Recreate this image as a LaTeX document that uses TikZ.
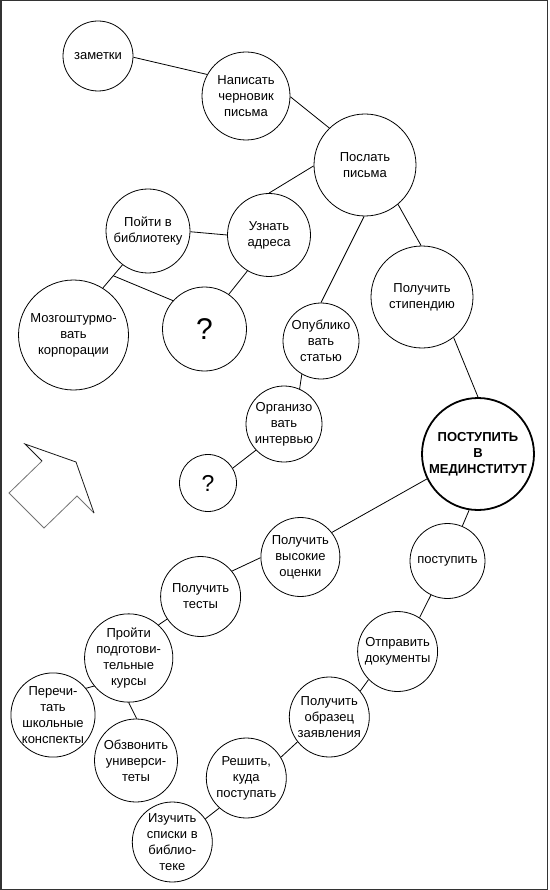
\documentclass[tikz,border=0pt]{standalone}
\usepackage{fontspec}
\setmainfont{Liberation Sans}
\begin{document}
\begin{tikzpicture}[x=1pt,y=-1pt,
  bub/.style={circle, draw, line width=0.8pt, inner sep=0pt, align=center,
    font=\fontsize{13}{16}\selectfont},
  mainbub/.style={bub, line width=1.8pt, font=\fontsize{13}{16}\selectfont\bfseries},
  qbig/.style={bub, font=\fontsize{30}{32}\selectfont},
  qsmall/.style={bub, font=\fontsize{23}{25}\selectfont},
  link/.style={line width=0.8pt}]
\useasboundingbox (0,0) rectangle (549,890);
\draw[line width=1.5pt, black!80] (0.75,0.75) rectangle (547.5,889.25);

\node[bub, minimum size=70pt] (zam) at (98,56) {заметки};
\node[bub, minimum size=88pt] (nap) at (246,96) {Написать\\черновик\\письма};
\node[bub, minimum size=102pt] (pos) at (365,165) {Послать\\письма};
\node[bub, minimum size=84pt] (poj) at (148,231) {Пойти в\\библиотеку};
\node[bub, minimum size=83pt] (uzn) at (269,235) {Узнать\\адреса};
\node[bub, minimum size=110pt] (mozg) at (73.5,335) {Мозгоштурмо-\\вать\\корпорации};
\node[qbig, minimum size=84pt] (q1) at (204.5,329) {?};
\node[bub, minimum size=102pt] (stip) at (422,297) {Получить\\стипендию};
\node[bub, minimum size=76pt] (opub) at (321,341) {Опублико\\вать\\статью};
\node[bub, minimum size=76pt] (org) at (284,424) {Организо\\вать\\интервью};
\node[qsmall, minimum size=57pt] (q2) at (208,483) {?};
\node[mainbub, minimum size=112pt] (main) at (478,454) {ПОСТУПИТЬ\\В\\МЕДИНСТИТУТ};
\node[bub, minimum size=79pt] (vys) at (300.4,557) {Получить\\высокие\\оценки};
\node[bub, minimum size=75pt] (post) at (447.5,561) {поступить};
\node[bub, minimum size=80pt] (test) at (200.6,596.5) {Получить\\тесты};
\node[bub, minimum size=83pt] (proj) at (128.7,658) {Пройти\\подготови-\\тельные\\курсы};
\node[bub, minimum size=80pt] (otpr) at (397.6,651.5) {Отправить\\документы};
\node[bub, minimum size=83pt] (pere) at (53,715) {Перечи-\\тать\\школьные\\конспекты};
\node[bub, minimum size=83pt] (obzv) at (136,760.5) {Обзвонить\\универси-\\теты};
\node[bub, minimum size=80pt] (obr) at (329.3,717) {Получить\\образец\\заявления};
\node[bub, minimum size=80pt] (resh) at (246.3,778) {Решить,\\куда\\поступать};
\node[bub, minimum size=80pt] (izuch) at (172.3,842) {Изучить\\списки в\\библио-\\теке};

\draw[link] (zam.-2) -- (nap.151);
\draw[link] (nap.-1) -- (pos.134);
\draw[link] (pos.181) -- (uzn.90);
\draw[link] (pos.-91) -- (opub.90);
\draw[link] (pos.-50) -- (stip.91);
\draw[link] (poj.-1.5) -- (uzn.180);
\draw[link] (poj.-127) -- coordinate[pos=0.47] (jn) (mozg.58);
\draw[link] (jn) -- (q1.138);
\draw[link] (uzn.-121) -- (q1.55);
\draw[link] (opub.-120) -- (org.66);
\draw[link] (org.-137) -- (q2.31);
\draw[link] (stip.-52) -- (main.90);
\draw[link] (main.-154) -- (vys.38);
\draw[link] (main.-99.5) -- (post.67);
\draw[link] (vys.181.5) -- (test.39);
\draw[link] (post.-116) -- (otpr.57);
\draw[link] (test.-146) -- (proj.48);
\draw[link] (proj.-141) -- (pere.39);
\draw[link] (proj.-90) -- (obzv.89);
\draw[link] (otpr.-136) -- (obr.40);
\draw[link] (obr.-142) -- (resh.31);
\draw[link] (resh.-132) -- (izuch.35);

\draw[line width=0.8pt, black!55, line join=miter] (42,461) -- (9,493) -- (44,528) -- (77,496) -- (94,513);
\draw[line width=0.8pt, black!90, line join=miter] (42,461) -- (25,444) -- (76,462) -- (94,513);
\end{tikzpicture}
\end{document}
